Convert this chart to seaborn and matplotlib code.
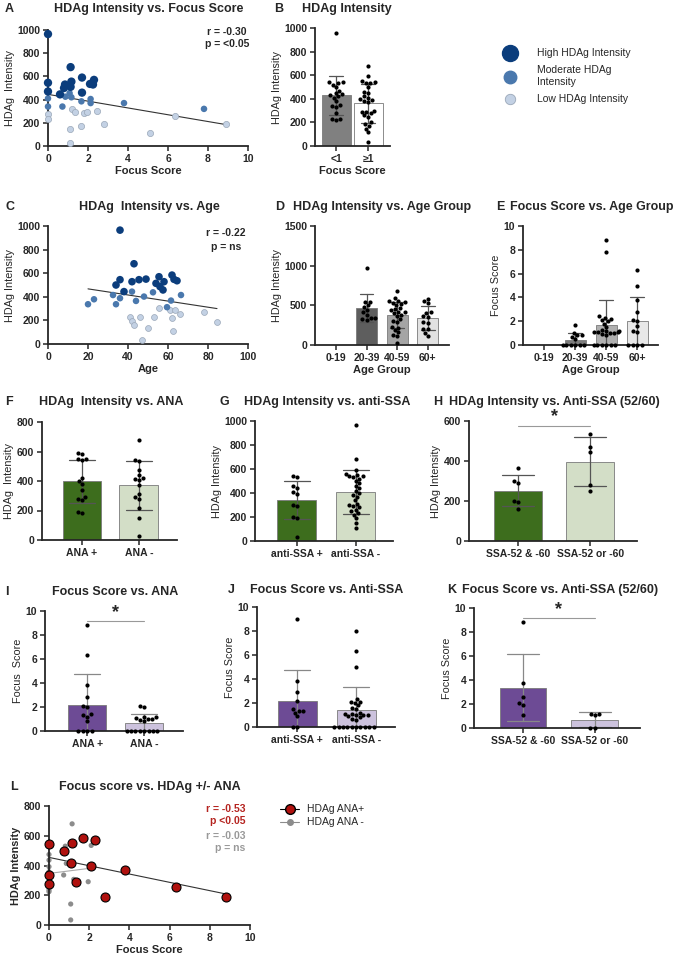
import numpy as np
import pandas as pd
import seaborn as sns
import matplotlib.pyplot as plt
from matplotlib.lines import Line2D

# ---------------- data ----------------
# A: focus score vs HDAg intensity, split by intensity group
a_hi_fs = [0, 0, 0, 0.6, 0.8, 0.85, 1.13, 1.13, 1.17, 1.7, 1.7, 2.1, 2.25, 2.3]
a_hi_int = [965, 545, 470, 445, 500, 530, 680, 510, 555, 590, 460, 535, 530, 570]
a_mid_fs = [0, 0, 0.72, 0.87, 1.08, 1.17, 1.67, 2.13, 2.13, 3.8, 7.8]
a_mid_int = [410, 340, 340, 425, 455, 420, 385, 405, 370, 370, 320]
a_lo_fs = [0, 0, 1.2, 1.33, 1.8, 1.95, 2.45, 1.08, 1.67, 2.8, 1.1, 5.08, 6.37, 8.88]
a_lo_int = [280, 230, 320, 290, 285, 290, 305, 145, 170, 190, 30, 115, 260, 193]

# C: age vs HDAg intensity
c_hi_age = [36, 43, 36, 34, 42, 45.5, 49, 54, 55.5, 56, 57.5, 58, 62, 63, 64.5, 38]
c_hi_int = [965, 680, 545, 500, 528, 545, 550, 514, 570, 486, 458, 528, 584, 548, 536, 444]
c_mid_age = [20, 23, 32.5, 34, 36, 42, 44, 48, 52.5, 59.5, 61.5, 66.5]
c_mid_int = [337, 379, 415, 337, 388, 444, 365, 402, 438, 312, 368, 415]
c_lo_age = [41, 42, 43, 46, 50, 47, 53, 55.5, 61, 63.5, 62, 62.5, 66, 78, 84.5]
c_lo_int = [227, 191, 163, 227, 135, 31, 227, 303, 289, 289, 219, 112, 253, 272, 185]

# B: HDAg intensity by focus score
b_cats = ["<1", "≥1"]
b_lt1 = [960, 545, 540, 530, 520, 500, 470, 450, 440, 430, 420, 410, 380, 350, 340, 330, 280, 230, 225, 220]
b_ge1 = [680, 590, 550, 540, 535, 530, 500, 460, 450, 420, 410, 400, 390, 380, 370,
         300, 290, 290, 280, 260, 250, 200, 190, 170, 145, 115, 30]

# D / E: by age group
age_cats = ["0-19", "20-39", "40-59", "60+"]
d_2039 = [965, 545, 540, 500, 480, 440, 410, 380, 340, 335, 330, 320]
d_4059 = [680, 590, 560, 550, 540, 530, 520, 500, 470, 450, 440, 420, 410,
          400, 380, 370, 330, 300, 290, 230, 220, 190, 160, 130, 110, 30]
d_60 = [585, 550, 530, 410, 400, 360, 350, 290, 280, 200, 200, 150, 110]
e_2039 = [1.65, 1.0, 0.8, 0.8, 0.7, 0.5, 0, 0, 0, 0, 0, 0]
e_4059 = [8.8, 7.8, 2.4, 2.3, 2.2, 2.1, 2.0, 1.8, 1.5, 1.3, 1.2, 1.15, 1.1, 1.1, 1.1,
          1.0, 1.0, 0.9, 0.8, 0, 0, 0, 0, 0, 0]
e_60 = [6.3, 5.0, 3.8, 2.8, 2.1, 2.0, 1.6, 1.2, 1.1, 0, 0, 0, 0]

# F / I: by ANA
ana_cats = ["ANA +", "ANA -"]
f_pos = [590, 580, 550, 550, 545, 420, 400, 380, 340, 290, 280, 270, 190, 185]
f_neg = [680, 540, 535, 475, 440, 420, 415, 410, 370, 310, 290, 280, 220, 150, 30]
i_pos = [8.8, 6.3, 3.8, 2.8, 2.1, 2.0, 1.4, 1.3, 1.2, 0.8, 0, 0, 0, 0]
i_neg = [2.1, 2.0, 1.2, 1.15, 1.1, 1.0, 1.0, 0.9, 0.8, 0, 0, 0, 0, 0, 0, 0, 0]

# G / J: by anti-SSA
ssa_cats = ["anti-SSA +", "anti-SSA -"]
g_pos = [545, 530, 460, 440, 410, 390, 300, 290, 200, 190, 30]
g_neg = [965, 680, 590, 560, 550, 540, 540, 530, 520, 500, 480, 460, 440, 420, 400,
         380, 370, 340, 310, 300, 290, 280, 260, 250, 230, 220, 190, 150, 110]
j_pos = [9.0, 3.8, 2.9, 2.2, 1.5, 1.3, 1.3, 1.2, 0.9, 0, 0]
j_neg = [8.0, 6.3, 5.0, 2.3, 2.1, 2.1, 2.0, 1.8, 1.6, 1.5, 1.2, 1.1, 1.1, 1.0, 1.0,
         1.0, 0.9, 0.8, 0.7, 0.6, 0, 0, 0, 0, 0, 0, 0, 0, 0, 0]

# H / K: by anti-SSA 52/60
s52_cats = ["SSA-52 & -60", "SSA-52 or -60"]
h_both = [367, 300, 290, 200, 195, 160]
h_either = [533, 472, 447, 280, 252]
k_both = [8.8, 3.75, 2.6, 2.1, 1.9, 1.1]
k_either = [1.2, 1.2, 1.1, 0, 0]

# L: focus score vs HDAg, split by ANA
l_pos_fs = [0, 0.73, 1.16, 1.7, 2.3, 1.11, 2.1, 0, 0, 1.33, 2.8, 3.8, 6.33, 8.82]
l_pos_int = [544, 499, 548, 588, 570, 414, 399, 336, 273, 286, 190, 371, 255, 190]
l_neg_fs = [1.15, 0.81, 2.1, 0, 0, 0, 0, 0, 0.73, 0.86, 1.23, 1.95, 1.08, 1.08, 0]
l_neg_int = [680, 530, 535, 474, 436, 392, 235, 224, 336, 414, 307, 291, 141, 34, 358]

# ---------------- styling ----------------
sns.set_style("ticks")
plt.rcParams['font.family'] = ['Liberation Sans', 'DejaVu Sans']
plt.rcParams['axes.linewidth'] = 1.3
plt.rcParams['xtick.major.width'] = 1.1
plt.rcParams['ytick.major.width'] = 1.1
plt.rcParams['xtick.major.size'] = 3.5
plt.rcParams['ytick.major.size'] = 3.5
plt.rcParams['xtick.major.pad'] = 2
plt.rcParams['ytick.major.pad'] = 2
plt.rcParams['axes.labelpad'] = 2

W, H = 676, 957
fig = plt.figure(figsize=(W / 100, H / 100), dpi=100)

blues = {"High": "#0b3d7c", "Moderate": "#4a78ad", "Low": "#c3d1e4"}
dark_green, light_green = "#3b7a10", "#d3e2c3"
purple, light_purple = "#6c3ea2", "#cbbde2"


def box(l, t, r, b):
    ax = fig.add_axes([l / W, 1 - b / H, (r - l) / W, (b - t) / H])
    return ax


def title(x, y, letter_x, text, letter):
    fig.text(x / W, 1 - y / H, text, ha='center', va='center', fontsize=9, fontweight='bold')
    fig.text(letter_x / W, 1 - y / H, letter, ha='left', va='center', fontsize=9, fontweight='bold')


def finish(ax, ylim, yticks, ylabel, xlabel="", ybold=False):
    ax.set_ylim(*ylim)
    ax.set_yticks(yticks)
    ax.set_ylabel(ylabel, fontsize=7.8, fontweight='bold' if ybold else 'normal')
    ax.set_xlabel(xlabel, fontsize=8, fontweight='bold')
    ax.tick_params(labelsize=7.5)
    for lab in ax.get_xticklabels() + ax.get_yticklabels():
        lab.set_fontweight('bold')
    sns.despine(ax=ax)


def bar_panel(ax, cats, groups, colors, xlim, width, errc='#555555'):
    labels, vals = [], []
    for c, g in zip(cats, groups):
        labels += [c] * len(g)
        vals += list(g)
    df = pd.DataFrame({"g": labels, "v": vals})
    sns.barplot(data=df, x="g", y="v", hue="g", order=cats, hue_order=cats,
                palette=colors, errorbar="sd", capsize=0.45, width=width,
                err_kws={"color": errc, "linewidth": 0.9},
                edgecolor="#7a7a7a", linewidth=0.6, legend=False, ax=ax)
    sns.swarmplot(data=df, x="g", y="v", order=cats, color="black", size=3,
                  clip_on=False, zorder=4, ax=ax)
    ax.set_xlim(*xlim)


def scatter_groups(ax, groups, sizes):
    allx, ally = [], []
    for name, xs, ys in groups:
        allx += xs
        ally += ys
    sns.regplot(x=np.array(allx, float), y=np.array(ally, float), scatter=False, ci=None,
                truncate=True, color="#333333", line_kws={"lw": 0.8, "zorder": 1}, ax=ax)
    for name, xs, ys in groups:
        sns.scatterplot(x=xs, y=ys, color=blues[name], s=sizes[name],
                        edgecolor="#9aa7b8" if name == "Low" else "none",
                        linewidth=0.5, clip_on=False, zorder=3, ax=ax)


# ---------------- A ----------------
axA = box(48, 30, 248, 146)
scatter_groups(axA, [("Low", a_lo_fs, a_lo_int), ("Moderate", a_mid_fs, a_mid_int),
                     ("High", a_hi_fs, a_hi_int)],
               {"High": 36, "Moderate": 22, "Low": 20})
axA.set_xlim(0, 10)
axA.set_xticks(range(0, 11, 2))
finish(axA, (0, 1000), range(0, 1001, 200), "HDAg  Intensity", "Focus Score")
title(149, 9, 5, "HDAg Intensity vs. Focus Score", "A")
fig.text(227 / W, 1 - 32 / H, "r = -0.30", ha='center', va='center', fontsize=7.5, fontweight='bold')
fig.text(227 / W, 1 - 44 / H, "p = <0.05", ha='center', va='center', fontsize=7.5, fontweight='bold')

# ---------------- B ----------------
axB = box(315, 28, 390, 146)
bar_panel(axB, b_cats, [b_lt1, b_ge1], ["#808080", "#ffffff"], (-0.66, 1.68), 0.9)
finish(axB, (0, 1000), range(0, 1001, 200), "HDAg Intensity", "Focus Score")
title(347, 9, 274, "HDAg Intensity", "B")

# legend for intensity groups
hands = [Line2D([], [], ls='', marker='o', markersize=11.5, color=blues["High"]),
         Line2D([], [], ls='', marker='o', markersize=9, color=blues["Moderate"]),
         Line2D([], [], ls='', marker='o', markersize=7.5, markerfacecolor=blues["Low"],
                markeredgecolor="#9aa7b8", markeredgewidth=0.6)]
fig.legend(hands, ["High HDAg Intensity", "Moderate HDAg\nIntensity", "Low HDAg Intensity"],
           loc='upper left', bbox_to_anchor=(495 / W, 1 - 44 / H), frameon=False,
           fontsize=7.5, labelspacing=0.7, handletextpad=1.6, borderaxespad=0)

# ---------------- C ----------------
axC = box(48, 226, 248, 344)
scatter_groups(axC, [("Low", c_lo_age, c_lo_int), ("Moderate", c_mid_age, c_mid_int),
                     ("High", c_hi_age, c_hi_int)],
               {"High": 30, "Moderate": 22, "Low": 18})
axC.set_xlim(0, 100)
axC.set_xticks(range(0, 101, 20))
finish(axC, (0, 1000), range(0, 1001, 200), "HDAg Intensity", "Age")
title(149, 207, 5, "HDAg  Intensity vs. Age", "C")
fig.text(226 / W, 1 - 233 / H, "r = -0.22", ha='center', va='center', fontsize=7.5, fontweight='bold')
fig.text(226 / W, 1 - 247 / H, "p = ns", ha='center', va='center', fontsize=7.5, fontweight='bold')

# ---------------- D ----------------
axD = box(315, 226, 449, 345)
bar_panel(axD, age_cats, [[], d_2039, d_4059, d_60],
          ["#ffffff", "#5e5e5e", "#a5a5a5", "#e2e2e2"], (-0.69, 3.70), 0.69)
finish(axD, (0, 1500), range(0, 1501, 500), "HDAg Intensity", "Age Group")
title(382, 207, 275, "HDAg Intensity vs. Age Group", "D")

# ---------------- E ----------------
axE = box(523, 226, 658, 345)
bar_panel(axE, age_cats, [[], e_2039, e_4059, e_60],
          ["#ffffff", "#7c7c7c", "#b0b0b0", "#e8e8e8"], (-0.68, 3.67), 0.68)
finish(axE, (0, 10), range(0, 11, 2), "Focus Score", "Age Group")
title(592, 207, 496, "Focus Score vs. Age Group", "E")

# ---------------- F ----------------
axF = box(42, 422, 177, 540)
bar_panel(axF, ana_cats, [f_pos, f_neg], [dark_green, light_green], (-0.70, 1.67), 0.68)
finish(axF, (0, 800), range(0, 801, 200), "HDAg  Intensity")
title(111, 402, 5, "HDAg  Intensity vs. ANA", "F")

# ---------------- G ----------------
axG = box(255, 421, 393, 541)
bar_panel(axG, ssa_cats, [g_pos, g_neg], [dark_green, light_green], (-0.71, 1.63), 0.66)
finish(axG, (0, 1000), range(0, 1001, 200), "HDAg Intensity")
title(327, 402, 220, "HDAg Intensity vs. anti-SSA", "G")

# ---------------- H ----------------
axH = box(469, 421, 637, 541)
bar_panel(axH, s52_cats, [h_both, h_either], [dark_green, light_green], (-0.68, 1.65), 0.67)
finish(axH, (0, 600), range(0, 601, 200), "HDAg Intensity")
title(554, 402, 433, "HDAg Intensity vs. Anti-SSA (52/60)", "H")
axH.plot([0, 1], [575, 575], color="#999999", lw=0.8)
axH.text(0.5, 580, "*", ha='center', va='bottom', fontsize=13, fontweight='bold')

# ---------------- I ----------------
axI = box(45, 611, 183, 731)
bar_panel(axI, ana_cats, [i_pos, i_neg], [purple, light_purple], (-0.74, 1.68), 0.67, errc="#888888")
finish(axI, (0, 10), range(0, 11, 2), "Focus  Score")
title(115, 592, 5, "Focus Score vs. ANA", "I")
axI.plot([0, 1], [9.2, 9.2], color="#999999", lw=0.8)
axI.text(0.5, 9.2, "*", ha='center', va='bottom', fontsize=13, fontweight='bold')

# ---------------- J ----------------
axJ = box(257, 607, 395, 727)
bar_panel(axJ, ssa_cats, [j_pos, j_neg], [purple, light_purple], (-0.68, 1.66), 0.66, errc="#888888")
finish(axJ, (0, 10), range(0, 11, 2), "Focus Score")
title(327, 590, 228, "Focus Score vs. Anti-SSA", "J")

# ---------------- K ----------------
axK = box(474, 608, 640, 728)
bar_panel(axK, s52_cats, [k_both, k_either], [purple, light_purple], (-0.68, 1.63), 0.65, errc="#888888")
finish(axK, (0, 10), range(0, 11, 2), "Focus Score")
title(560, 590, 447, "Focus Score vs. Anti-SSA (52/60)", "K")
axK.plot([0, 1], [9.2, 9.2], color="#999999", lw=0.8)
axK.text(0.5, 9.2, "*", ha='center', va='bottom', fontsize=13, fontweight='bold')

# ---------------- L ----------------
axL = box(49, 806, 250, 925)
sns.regplot(x=np.array(l_neg_fs, float), y=np.array(l_neg_int, float), scatter=False, ci=None,
            truncate=True, color="#aaaaaa", line_kws={"lw": 0.8, "zorder": 1}, ax=axL)
sns.regplot(x=np.array(l_pos_fs, float), y=np.array(l_pos_int, float), scatter=False, ci=None,
            truncate=True, color="#333333", line_kws={"lw": 0.8, "zorder": 1}, ax=axL)
sns.scatterplot(x=l_neg_fs, y=l_neg_int, color="#8c8c8c", s=14, edgecolor="none",
                clip_on=False, zorder=2, ax=axL)
sns.scatterplot(x=l_pos_fs, y=l_pos_int, color="#b0110e", s=42, edgecolor="black",
                linewidth=0.8, clip_on=False, zorder=3, ax=axL)
axL.set_xlim(0, 10)
axL.set_xticks(range(0, 11, 2))
finish(axL, (0, 800), range(0, 801, 200), "HDAg Intensity", "Focus Score", ybold=True)
title(150, 787, 10, "Focus score vs. HDAg +/- ANA", "L")
fig.text(245 / W, 1 - 809 / H, "r = -0.53", ha='right', va='center', fontsize=7.5, fontweight='bold', color="#b5231f")
fig.text(245 / W, 1 - 821 / H, "p <0.05", ha='right', va='center', fontsize=7.5, fontweight='bold', color="#b5231f")
fig.text(245 / W, 1 - 836 / H, "r = -0.03", ha='right', va='center', fontsize=7.5, fontweight='bold', color="#999999")
fig.text(245 / W, 1 - 848 / H, "p = ns", ha='right', va='center', fontsize=7.5, fontweight='bold', color="#999999")
lh = [Line2D([], [], color="black", lw=0.8, marker='o', markersize=7,
             markerfacecolor="#b0110e", markeredgecolor="black"),
      Line2D([], [], color="#8c8c8c", lw=0.8, marker='o', markersize=4,
             markerfacecolor="#8c8c8c", markeredgecolor="#8c8c8c")]
fig.legend(lh, ["HDAg ANA+", "HDAg ANA -"], loc='upper left', bbox_to_anchor=(276 / W, 1 - 800 / H),
           frameon=False, fontsize=7.5, labelspacing=0.3, handlelength=1.8, handletextpad=0.8,
           borderaxespad=0)

fig.savefig("out.png", dpi=100)
